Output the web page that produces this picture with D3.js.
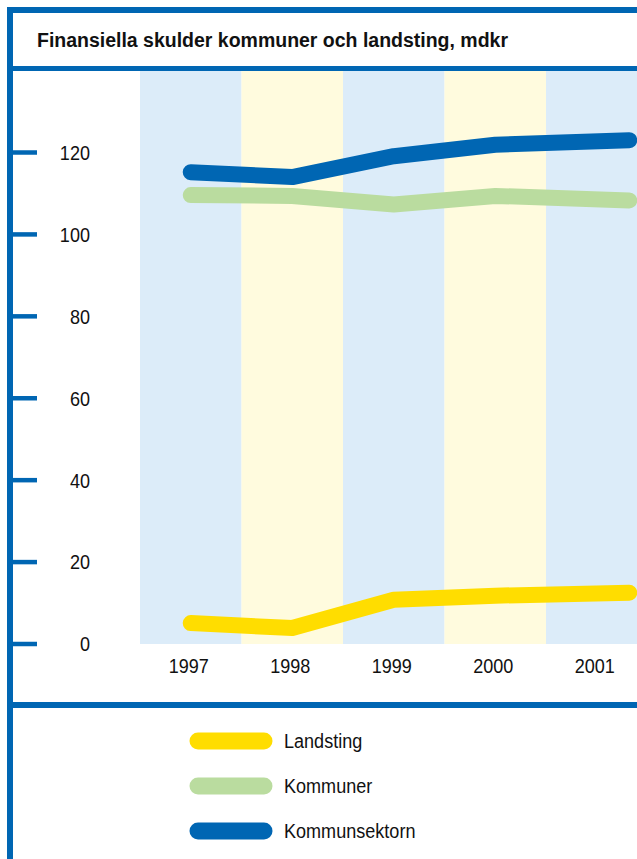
<!DOCTYPE html>
<html>
<head>
<meta charset="utf-8">
<script src="https://cdn.jsdelivr.net/npm/d3@7"></script>
<style>
  html, body { margin: 0; padding: 0; background: #fff; }
  svg { display: block; }
  text { font-family: "Liberation Sans", Arial, sans-serif; fill: #111; }
</style>
</head>
<body>
<script>
// Chart data
const years = [1997, 1998, 1999, 2000, 2001];
// last point sits a bit right of the 2001 band centre in the original
const pointYears = [1997, 1998, 1999, 2000, 2001.32];
const landsting = [5.1, 3.9, 10.8, 11.8, 12.5];
const kommuner = [109.6, 109.4, 107.3, 109.4, 108.3];
const kommunsektorn = [115.2, 114.0, 119.1, 121.9, 123.0];
const yTicks = [0, 20, 40, 60, 80, 100, 120];
const title = "Finansiella skulder kommuner och landsting, mdkr";

const series = [
  { name: "Landsting", values: landsting, color: "#ffdd00" },
  { name: "Kommuner", values: kommuner, color: "#badc9f" },
  { name: "Kommunsektorn", values: kommunsektorn, color: "#0066b3" }
];

const W = 637, H = 859;
const frameBlue = "#0066b3";
const bandColors = ["#dcecf9", "#fffbde"];
const labelSize = 21;
const squeeze = 0.86; // the original uses a condensed face

const svg = d3.select("body").append("svg")
  .attr("width", W)
  .attr("height", H)
  .attr("viewBox", `0 0 ${W} ${H}`);

// Scales
const bandWidth = 101.5;
const bandStart = 140;
const x = d3.scaleLinear()
  .domain([1997, 2001])
  .range([bandStart + bandWidth / 2, bandStart + bandWidth * 4.5]);
const y = d3.scaleLinear().domain([0, 120]).range([644, 152.5]);

// Alternating background bands, one per year
svg.append("g").selectAll("rect")
  .data(years)
  .enter()
  .append("rect")
  .attr("x", (d) => x(d) - bandWidth / 2)
  .attr("y", 71)
  .attr("width", bandWidth)
  .attr("height", y(0) - 71)
  .attr("fill", (d, i) => bandColors[i % 2]);

// Frame: top border, title rule, left border, legend rule
svg.append("rect").attr("x", 7).attr("y", 7).attr("width", W - 7).attr("height", 6).attr("fill", frameBlue);
svg.append("rect").attr("x", 7).attr("y", 66).attr("width", W - 7).attr("height", 5).attr("fill", frameBlue);
svg.append("rect").attr("x", 7).attr("y", 7).attr("width", 6).attr("height", H - 7).attr("fill", frameBlue);
svg.append("rect").attr("x", 7).attr("y", 702).attr("width", W - 7).attr("height", 6).attr("fill", frameBlue);

svg.append("text")
  .attr("x", 37)
  .attr("y", 47)
  .attr("font-size", 20)
  .attr("font-weight", "bold")
  .attr("textLength", 471)
  .attr("lengthAdjust", "spacingAndGlyphs")
  .text(title);

// Y axis: thick ticks off the frame, labels right-aligned
const yAxis = svg.append("g");
yAxis.selectAll("line")
  .data(yTicks)
  .enter()
  .append("line")
  .attr("x1", 13)
  .attr("x2", 37)
  .attr("y1", (d) => y(d))
  .attr("y2", (d) => y(d))
  .attr("stroke", frameBlue)
  .attr("stroke-width", 4.5);
yAxis.selectAll("text")
  .data(yTicks)
  .enter()
  .append("text")
  .attr("transform", (d) => `translate(90,${y(d)}) scale(${squeeze},1)`)
  .attr("dy", "0.35em")
  .attr("text-anchor", "end")
  .attr("font-size", labelSize)
  .text((d) => d);

// X labels
svg.append("g").selectAll("text")
  .data(years)
  .enter()
  .append("text")
  .attr("transform", (d) => `translate(${x(d) - 2},666) scale(${squeeze},1)`)
  .attr("dy", "0.35em")
  .attr("text-anchor", "middle")
  .attr("font-size", labelSize)
  .text((d) => d);

// Lines
const line = d3.line()
  .x((d, i) => x(pointYears[i]))
  .y((d) => y(d));

svg.append("g").selectAll("path")
  .data(series)
  .enter()
  .append("path")
  .attr("d", (d) => line(d.values))
  .attr("fill", "none")
  .attr("stroke", (d) => d.color)
  .attr("stroke-width", 16)
  .attr("stroke-linecap", "round")
  .attr("stroke-linejoin", "round");

// Legend
const legend = svg.append("g").selectAll("g")
  .data(series)
  .enter()
  .append("g")
  .attr("transform", (d, i) => `translate(0,${741 + i * 45})`);
legend.append("line")
  .attr("x1", 198)
  .attr("x2", 264)
  .attr("stroke", (d) => d.color)
  .attr("stroke-width", 17)
  .attr("stroke-linecap", "round");
legend.append("text")
  .attr("transform", `translate(284,0) scale(${squeeze},1)`)
  .attr("dy", "0.35em")
  .attr("font-size", labelSize)
  .text((d) => d.name);
</script>
</body>
</html>
